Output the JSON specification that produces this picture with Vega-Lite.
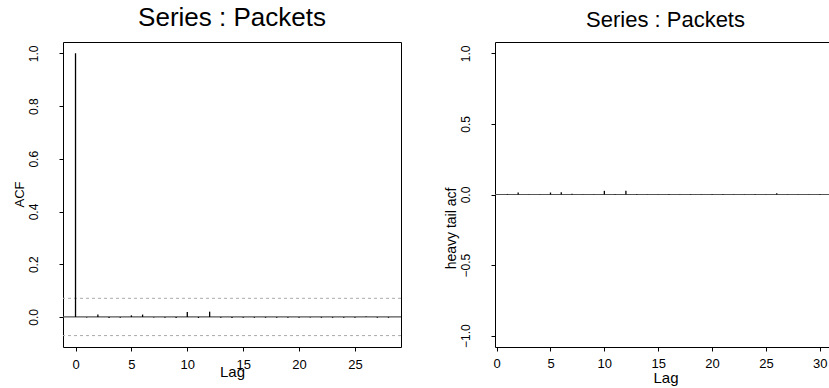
{
  "$schema": "https://vega.github.io/schema/vega-lite/v6.json",
  "padding": {"left": 12, "top": 4, "right": 0, "bottom": 0},
  "background": "white",
  "spacing": 40,
  "config": {
    "font": "Liberation Sans",
    "view": {"stroke": "black", "strokeWidth": 1},
    "axis": {"grid": false, "domain": false, "tickColor": "black", "tickSize": 4, "labelColor": "black", "titleColor": "black", "labelFont": "Liberation Sans", "titleFont": "Liberation Sans", "titleFontWeight": "normal", "labelFontSize": 12}
  },
  "datasets": {
    "left": [
      {"lag": 0, "acf": 1.0}, {"lag": 1, "acf": -0.002}, {"lag": 2, "acf": 0.009}, {"lag": 3, "acf": -0.004},
      {"lag": 4, "acf": -0.003}, {"lag": 5, "acf": 0.006}, {"lag": 6, "acf": 0.009}, {"lag": 7, "acf": -0.002},
      {"lag": 8, "acf": -0.003}, {"lag": 9, "acf": -0.004}, {"lag": 10, "acf": 0.019}, {"lag": 11, "acf": -0.004},
      {"lag": 12, "acf": 0.02}, {"lag": 13, "acf": -0.003}, {"lag": 14, "acf": -0.004}, {"lag": 15, "acf": -0.003},
      {"lag": 16, "acf": -0.003}, {"lag": 17, "acf": -0.003}, {"lag": 18, "acf": -0.003}, {"lag": 19, "acf": -0.003},
      {"lag": 20, "acf": -0.003}, {"lag": 21, "acf": -0.002}, {"lag": 22, "acf": -0.003}, {"lag": 23, "acf": -0.003},
      {"lag": 24, "acf": -0.003}, {"lag": 25, "acf": -0.003}, {"lag": 26, "acf": 0.002}, {"lag": 27, "acf": -0.003},
      {"lag": 28, "acf": -0.003}
    ],
    "right": [
      {"lag": 1, "acf": 0.004}, {"lag": 2, "acf": 0.015}, {"lag": 3, "acf": 0.002}, {"lag": 4, "acf": 0.002},
      {"lag": 5, "acf": 0.014}, {"lag": 6, "acf": 0.016}, {"lag": 7, "acf": 0.005}, {"lag": 8, "acf": 0.002},
      {"lag": 9, "acf": 0.002}, {"lag": 10, "acf": 0.026}, {"lag": 11, "acf": 0.003}, {"lag": 12, "acf": 0.026},
      {"lag": 13, "acf": 0.004}, {"lag": 14, "acf": 0.002}, {"lag": 15, "acf": 0.002}, {"lag": 16, "acf": 0.003},
      {"lag": 17, "acf": 0.002}, {"lag": 18, "acf": 0.003}, {"lag": 19, "acf": 0.002}, {"lag": 20, "acf": 0.003},
      {"lag": 21, "acf": 0.003}, {"lag": 22, "acf": 0.002}, {"lag": 23, "acf": 0.002}, {"lag": 24, "acf": 0.003},
      {"lag": 25, "acf": 0.002}, {"lag": 26, "acf": 0.009}, {"lag": 27, "acf": 0.002}, {"lag": 28, "acf": 0.002},
      {"lag": 29, "acf": 0.002}, {"lag": 30, "acf": 0.003}
    ],
    "ci": [{"v": 0.0707}, {"v": -0.0707}],
    "zero": [{"v": 0}]
  },
  "hconcat": [
    {
      "width": 338,
      "height": 305,
      "title": {"text": "Series : Packets", "fontSize": 26, "fontWeight": "normal", "font": "Liberation Sans", "anchor": "middle", "baseline": "alphabetic", "offset": -10, "color": "black"},
      "layer": [
        {
          "data": {"name": "zero"},
          "mark": {"type": "rule", "color": "#555555", "strokeWidth": 1.2},
          "encoding": {"y": {"field": "v", "type": "quantitative", "scale": {"domain": [-0.114, 1.043], "nice": false, "zero": false}}}
        },
        {
          "data": {"name": "ci"},
          "mark": {"type": "rule", "color": "#aaaaaa", "strokeDash": [3, 3], "strokeWidth": 1},
          "encoding": {"y": {"field": "v", "type": "quantitative"}}
        },
        {
          "data": {"name": "left"},
          "mark": {"type": "rule", "color": "black", "strokeWidth": 1.3},
          "encoding": {
            "x": {"field": "lag", "type": "quantitative", "scale": {"domain": [-1.12, 29.12], "nice": false, "zero": false},
                  "axis": {"values": [0, 5, 10, 15, 20, 25], "title": "Lag", "titleFontSize": 15, "titlePadding": -7, "labelPadding": 7, "labelFontSize": 13}},
            "y": {"field": "acf", "type": "quantitative",
                  "axis": {"values": [0, 0.2, 0.4, 0.6, 0.8, 1.0], "format": ".1f", "labelAngle": -90, "labelAlign": "center", "labelBaseline": "bottom", "labelPadding": 19, "title": "ACF", "titleFontSize": 13, "titlePadding": 1, "titleY": 152}},
            "y2": {"datum": 0}
          }
        }
      ]
    },
    {
      "width": 341,
      "height": 305,
      "title": {"text": "Series : Packets", "fontSize": 22, "fontWeight": "normal", "font": "Liberation Sans", "anchor": "middle", "baseline": "alphabetic", "offset": -7, "color": "black"},
      "layer": [
        {
          "data": {"name": "zero"},
          "mark": {"type": "rule", "color": "#555555", "strokeWidth": 1.2},
          "encoding": {"y": {"field": "v", "type": "quantitative", "scale": {"domain": [-1.08, 1.08], "nice": false, "zero": false}}}
        },
        {
          "data": {"name": "right"},
          "mark": {"type": "rule", "color": "black", "strokeWidth": 1.3},
          "encoding": {
            "x": {"field": "lag", "type": "quantitative", "scale": {"domain": [-0.15, 31.5], "nice": false, "zero": false},
                  "axis": {"values": [0, 5, 10, 15, 20, 25, 30], "title": "Lag", "titleFontSize": 15, "titlePadding": 0, "labelPadding": 6, "labelFontSize": 13}},
            "y": {"field": "acf", "type": "quantitative",
                  "axis": {"values": [-1, -0.5, 0, 0.5, 1], "format": ".1f", "labelAngle": -90, "labelAlign": "center", "labelBaseline": "bottom", "labelPadding": 19, "title": "heavy tail acf", "titleFontSize": 14, "titlePadding": 1, "titleY": 186}},
            "y2": {"datum": 0}
          }
        }
      ]
    }
  ]
}
